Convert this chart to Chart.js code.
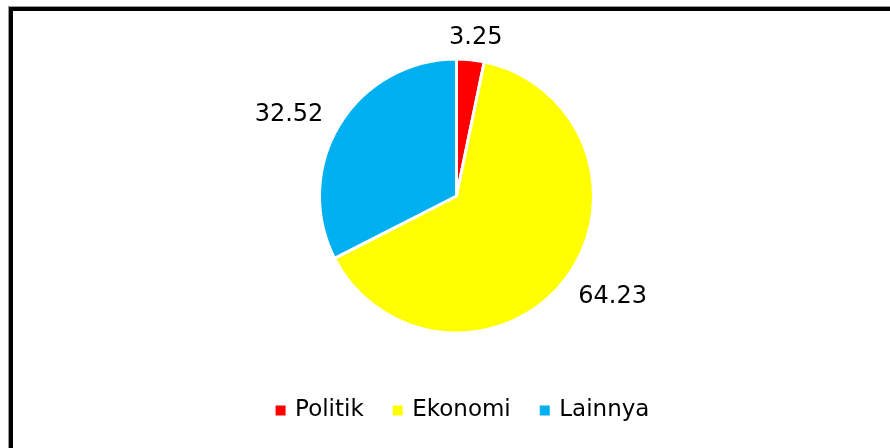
<!DOCTYPE html>
<html>
<head>
<meta charset="utf-8">
<script src="https://cdn.jsdelivr.net/npm/chart.js@4/dist/chart.umd.min.js"></script>
<style>
    html, body { margin: 0; padding: 0; background: #fff; }
    #wrap { position: relative; width: 890px; height: 448px; overflow: hidden; }
    #frame {
        position: absolute; left: 9px; top: 7px; width: 1000px; height: 600px;
        border-left: 4px solid #000; border-top: 4px solid #000;
        box-shadow: -1px -1px 0 #9a9a9a;
    }
    #chart { position: absolute; left: 0; top: 0; }
</style>
</head>
<body>
<div id="wrap">
    <div id="frame"></div>
    <canvas id="chart" width="890" height="448"></canvas>
</div>
<script>
const categories = ['Politik', 'Ekonomi', 'Lainnya'];
const shares = [3.25, 64.23, 32.52];
const sliceColors = ['#FF0000', '#FFFF00', '#00B0F0'];

const FONT = '"DejaVu Sans", sans-serif';

//..value labels just outside each slice
const outsideLabels = {
    id: 'outsideLabels',
    afterLayout(chart) {
        // nudge the legend row a little right of the pie centre
        chart.legend.left += 7;
        chart.legend.right += 7;
    },
    afterDatasetsDraw(chart) {
        const ctx = chart.ctx;
        const meta = chart.getDatasetMeta(0);
        ctx.save();
        ctx.font = '24px ' + FONT;
        ctx.fillStyle = '#000';
        ctx.textAlign = 'center';
        ctx.textBaseline = 'middle';
        meta.data.forEach((arc, i) => {
            const p = arc.getProps(['x', 'y', 'startAngle', 'endAngle', 'outerRadius'], true);
            const mid = (p.startAngle + p.endAngle) / 2;
            const text = shares[i].toFixed(2);
            const hw = ctx.measureText(text).width / 2;
            const dist = p.outerRadius + 25;
            const cx = p.x + Math.cos(mid) * (dist + hw);
            const cy = p.y + Math.sin(mid) * dist + 3;
            ctx.fillText(text, cx, cy);
        });
        ctx.restore();
    }
};

const baseLabels = Chart.overrides.pie.plugins.legend.labels.generateLabels;

new Chart(document.getElementById('chart'), {
    type: 'pie',
    data: {
        labels: categories,
        datasets: [{
            data: shares,
            backgroundColor: sliceColors,
            borderColor: '#fff',
            borderWidth: 3,
            hoverOffset: 0
        }]
    },
    options: {
        responsive: false,
        animation: false,
        radius: 137,
        layout: { padding: { top: 24, left: 23, right: 0, bottom: 16 } },
        plugins: {
            tooltip: { enabled: false },
            legend: {
                position: 'bottom',
                labels: {
                    usePointStyle: true,
                    pointStyle: 'rect',
                    boxWidth: 6,
                    boxHeight: 10,
                    padding: 31,
                    color: '#000',
                    font: { family: FONT, size: 23 },
                    generateLabels: (chart) => baseLabels(chart).map(l => ({ ...l, lineWidth: 0 }))
                }
            }
        }
    },
    plugins: [outsideLabels]
});
</script>
</body>
</html>
